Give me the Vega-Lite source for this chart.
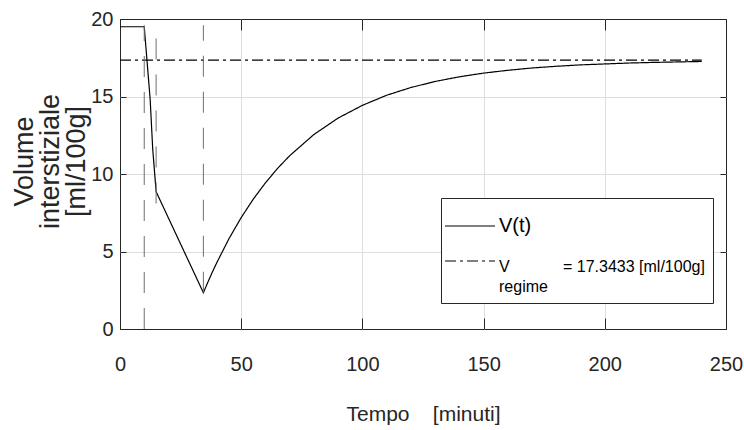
{
  "$schema": "https://vega.github.io/schema/vega-lite/v6.json",
  "width": 606,
  "height": 310,
  "autosize": {"type": "none"},
  "padding": {"left": 120, "top": 19, "right": 18, "bottom": 101},
  "background": "white",
  "config": {
    "view": {"stroke": "#262626", "strokeWidth": 1},
    "axis": {
      "domain": false,
      "tickColor": "#262626",
      "labelColor": "#262626",
      "titleColor": "#262626",
      "labelFont": "Liberation Sans",
      "labelFontSize": 20,
      "titleFontWeight": "normal",
      "gridColor": "#dedede",
      "gridWidth": 1
    }
  },
  "layer": [
    {
      "data": {
        "values": [
          {"t": 0, "V": 19.5, "series": "V(t)"},
          {"t": 10, "V": 19.5, "series": "V(t)"},
          {"t": 12.45, "V": 14.8, "series": "V(t)"},
          {"t": 13.5, "V": 11.6, "series": "V(t)"},
          {"t": 14.9, "V": 8.86, "series": "V(t)"},
          {"t": 34.4, "V": 2.34, "series": "V(t)"},
          {"t": 36, "V": 2.93, "series": "V(t)"},
          {"t": 38, "V": 3.64, "series": "V(t)"},
          {"t": 40, "V": 4.3, "series": "V(t)"},
          {"t": 45, "V": 5.84, "series": "V(t)"},
          {"t": 50, "V": 7.19, "series": "V(t)"},
          {"t": 55, "V": 8.38, "series": "V(t)"},
          {"t": 60, "V": 9.43, "series": "V(t)"},
          {"t": 65, "V": 10.36, "series": "V(t)"},
          {"t": 70, "V": 11.18, "series": "V(t)"},
          {"t": 80, "V": 12.55, "series": "V(t)"},
          {"t": 90, "V": 13.61, "series": "V(t)"},
          {"t": 100, "V": 14.43, "series": "V(t)"},
          {"t": 110, "V": 15.08, "series": "V(t)"},
          {"t": 120, "V": 15.58, "series": "V(t)"},
          {"t": 130, "V": 15.97, "series": "V(t)"},
          {"t": 140, "V": 16.27, "series": "V(t)"},
          {"t": 150, "V": 16.51, "series": "V(t)"},
          {"t": 160, "V": 16.69, "series": "V(t)"},
          {"t": 170, "V": 16.84, "series": "V(t)"},
          {"t": 180, "V": 16.95, "series": "V(t)"},
          {"t": 190, "V": 17.04, "series": "V(t)"},
          {"t": 200, "V": 17.1, "series": "V(t)"},
          {"t": 210, "V": 17.16, "series": "V(t)"},
          {"t": 220, "V": 17.2, "series": "V(t)"},
          {"t": 230, "V": 17.23, "series": "V(t)"},
          {"t": 240, "V": 17.26, "series": "V(t)"},
          {"t": 0, "V": 17.3433, "series": "regime"},
          {"t": 240, "V": 17.3433, "series": "regime"}
        ]
      },
      "mark": {"type": "line", "strokeWidth": 1.2, "color": "black"},
      "encoding": {
        "x": {
          "field": "t",
          "type": "quantitative",
          "scale": {"domain": [0, 250], "nice": false},
          "axis": {
            "orient": "bottom",
            "values": [0, 50, 100, 150, 200, 250],
            "tickSize": -11,
            "labelPadding": 46,
            "labelFlush": false,
            "labelBaseline": "middle",
            "title": "Tempo\u00a0\u00a0\u00a0\u00a0[minuti]",
            "titleFont": "Liberation Sans",
            "titleFontSize": 21,
            "titleX": 303,
            "titleY": 91,
            "titleAlign": "center",
            "titleBaseline": "alphabetic",
            "gridOpacity": {"condition": {"test": "datum.value === 0 || datum.value === 250", "value": 0}, "value": 1}
          }
        },
        "y": {
          "field": "V",
          "type": "quantitative",
          "scale": {"domain": [0, 20], "nice": false},
          "axis": {
            "orient": "left",
            "values": [0, 5, 10, 15, 20],
            "tickSize": -6,
            "labelPadding": 13,
            "labelFlush": false,
            "title": ["Volume", "interstiziale", "[ml/100g]"],
            "titleFont": "Liberation Sans",
            "titleFontSize": 27,
            "titleLineHeight": 26,
            "titleAngle": 270,
            "titleX": -96,
            "titleY": 142,
            "titleAlign": "center",
            "titleBaseline": "middle",
            "gridOpacity": {"condition": {"test": "datum.value === 0 || datum.value === 20", "value": 0}, "value": 1}
          }
        },
        "strokeDash": {
          "field": "series",
          "type": "nominal",
          "scale": {"domain": ["V(t)", "regime"], "range": [[1, 0], [11, 4, 3, 4]]},
          "legend": {
            "title": null,
            "orient": "none",
            "legendX": 321,
            "legendY": 179,
            "strokeColor": "#262626",
            "fillColor": "white",
            "padding": 8,
            "symbolType": "M-1.263,0H1.368",
            "symbolSize": 1444,
            "symbolStrokeWidth": 1.2,
            "symbolStrokeColor": "black",
            "symbolFillColor": "transparent",
            "labelFont": "Liberation Sans",
            "labelFontSize": 16,
            "labelColor": "black",
            "labelOffset": 10,
            "rowPadding": 5,
            "labelLimit": 500,
            "labelExpr": "datum.label == 'regime' ? ['V\u00a0\u00a0\u00a0\u00a0\u00a0\u00a0\u00a0\u00a0\u00a0\u00a0\u00a0\u00a0= 17.3433 [ml/100g]', '\u00a0\u00a0\u00a0regime'] : datum.label",
            "encode": {
              "labels": {
                "update": {
                  "lineHeight": {"value": 20},
                  "fontSize": {"signal": "datum.label == 'regime' ? 16 : 20"},
                  "dy": {"signal": "datum.label == 'regime' ? 6 : 0"}
                }
              }
            }
          }
        }
      }
    },
    {
      "data": {
        "values": [
          {"t": 10, "y1": 0, "y2": 19.6},
          {"t": 14.9, "y1": 8.1, "y2": 19.2},
          {"t": 34.4, "y1": 2.34, "y2": 19.6}
        ]
      },
      "mark": {"type": "rule", "color": "#6e6e6e", "strokeWidth": 1, "strokeDash": [21, 15]},
      "encoding": {
        "x": {
          "field": "t",
          "type": "quantitative",
          "axis": {"orient": "top", "values": [0, 50, 100, 150, 200, 250], "labels": false, "grid": false, "tickSize": -11, "title": null}
        },
        "y": {
          "field": "y1",
          "type": "quantitative",
          "axis": {"orient": "right", "values": [0, 5, 10, 15, 20], "labels": false, "grid": false, "tickSize": -6, "title": null}
        },
        "y2": {"field": "y2"}
      }
    }
  ],
  "resolve": {"axis": {"x": "independent", "y": "independent"}}
}
